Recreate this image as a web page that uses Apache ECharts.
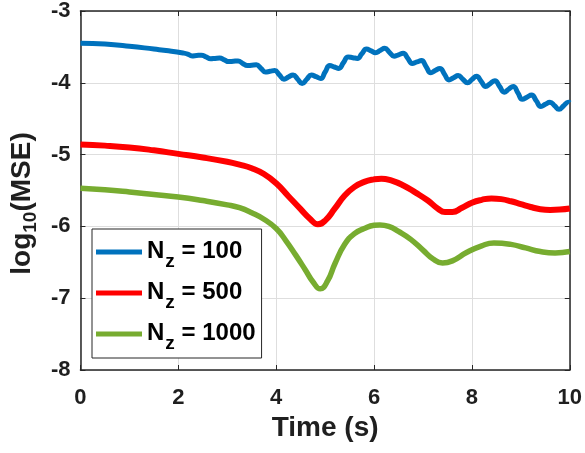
<!DOCTYPE html>
<html>
<head>
<meta charset="utf-8">
<script src="https://cdn.jsdelivr.net/npm/echarts@6/dist/echarts.min.js"></script>
<style>
html,body{margin:0;padding:0;background:#fff;}
#main{width:585px;height:453px;}
</style>
</head>
<body>
<div id="main"></div>
<script>
// N_z = 100 (small ripples on top of the trend)
var t100 = [0,0.5,1.0,1.5,1.8,2.095,2.19,2.28,2.375,2.47,2.565,2.66,2.75,2.845,2.94,3.03,3.125,3.22,3.315,3.41,3.5,3.595,3.69,3.78,3.875,3.97,4.065,4.16,4.25,4.345,4.44,4.53,4.625,4.72,4.815,4.91,5.0,5.095,5.19,5.28,5.375,5.47,5.565,5.66,5.75,5.845,5.94,6.03,6.125,6.22,6.315,6.41,6.5,6.595,6.69,6.78,6.875,6.97,7.065,7.16,7.25,7.345,7.44,7.53,7.625,7.72,7.815,7.91,8.0,8.095,8.19,8.28,8.375,8.47,8.565,8.66,8.75,8.845,8.94,9.03,9.125,9.22,9.315,9.41,9.5,9.595,9.69,9.78,9.875,9.97,10];
var v100 = [-3.45,-3.46,-3.49,-3.53,-3.555,-3.585,-3.60,-3.625,-3.62,-3.615,-3.64,-3.665,-3.66,-3.655,-3.68,-3.705,-3.70,-3.695,-3.73,-3.76,-3.755,-3.75,-3.80,-3.85,-3.84,-3.83,-3.89,-3.95,-3.92,-3.89,-3.95,-4.01,-3.95,-3.89,-3.915,-3.94,-3.85,-3.76,-3.78,-3.80,-3.72,-3.64,-3.65,-3.66,-3.595,-3.53,-3.555,-3.58,-3.55,-3.52,-3.575,-3.63,-3.61,-3.59,-3.66,-3.73,-3.71,-3.69,-3.775,-3.86,-3.83,-3.80,-3.88,-3.96,-3.93,-3.90,-3.95,-4.00,-3.955,-3.91,-3.98,-4.05,-4.01,-3.97,-4.05,-4.13,-4.09,-4.05,-4.14,-4.23,-4.20,-4.17,-4.25,-4.33,-4.30,-4.27,-4.32,-4.37,-4.32,-4.27,-4.28];
// N_z = 500
var t500 = [0,0.5,1,1.5,2,2.5,3,3.25,3.5,3.75,4.0,4.25,4.5,4.7,4.85,5.0,5.2,5.4,5.6,5.8,6.0,6.15,6.35,6.6,6.85,7.1,7.3,7.45,7.6,7.8,8.0,8.2,8.4,8.6,8.8,9.0,9.2,9.4,9.6,9.8,10];
var v500 = [-4.86,-4.875,-4.90,-4.94,-4.99,-5.04,-5.10,-5.14,-5.19,-5.27,-5.40,-5.58,-5.76,-5.90,-5.97,-5.92,-5.75,-5.57,-5.45,-5.38,-5.345,-5.335,-5.36,-5.43,-5.53,-5.64,-5.75,-5.80,-5.80,-5.74,-5.67,-5.63,-5.61,-5.62,-5.65,-5.69,-5.73,-5.76,-5.77,-5.765,-5.75];
// N_z = 1000
var t1000 = [0,0.5,1,1.5,2,2.5,3,3.25,3.5,3.75,4.0,4.2,4.4,4.6,4.75,4.9,5.05,5.2,5.4,5.6,5.8,6.0,6.12,6.3,6.5,6.75,7.0,7.2,7.4,7.6,7.9,8.2,8.45,8.8,9.1,9.4,9.7,10];
var v1000 = [-5.47,-5.49,-5.52,-5.555,-5.59,-5.64,-5.70,-5.74,-5.81,-5.90,-6.03,-6.20,-6.40,-6.61,-6.77,-6.87,-6.76,-6.52,-6.25,-6.10,-6.03,-5.985,-5.98,-6.00,-6.07,-6.18,-6.33,-6.45,-6.51,-6.48,-6.36,-6.27,-6.23,-6.25,-6.30,-6.35,-6.37,-6.35];

var names = ['N_z = 100','N_z = 500','N_z = 1000'];
var colors = ['#0072BD','#FF0000','#77AC30'];

function pairs(t, v){
	var out = [];
	for (var i = 0; i < t.length; i++) { out.push([t[i], v[i]]); }
	return out;
}

var font = 'Liberation Sans, Arial, sans-serif';
var ink = '#1f1f1f';

var myChart = echarts.init(document.getElementById('main'), null, {renderer: 'canvas'});
var option = {
	animation: false,
	backgroundColor: '#fff',
	grid: {left: 80, right: 14, top: 9, bottom: 83},
	legend: {
		orient: 'vertical',
		left: 92,
		top: 229,
		padding: [10, 6, 5, 4],
		itemGap: 9,
		itemWidth: 46,
		itemHeight: 5,
		icon: 'rect',
		backgroundColor: '#fff',
		borderColor: '#262626',
		borderWidth: 1,
		data: names,
		formatter: function(name){
			var rest = name.split('_z')[1];
			return '{a|N}{s|z}{a|' + rest + '}';
		},
		textStyle: {
			fontFamily: font,
			fontWeight: 'bold',
			color: '#000',
			rich: {
				a: {fontSize: 24, fontWeight: 'bold', fontFamily: font, color: '#000', verticalAlign: 'top', lineHeight: 26},
				s: {fontSize: 19, fontWeight: 'bold', fontFamily: font, color: '#000', verticalAlign: 'top', padding: [13, 0, 0, 1], lineHeight: 20}
			}
		}
	},
	xAxis: [
		{
			type: 'value', min: 0, max: 10, interval: 2,
			name: 'Time (s)', nameLocation: 'middle', nameGap: 40,
			nameTextStyle: {fontSize: 28, fontWeight: 'bold', fontFamily: font, color: ink},
			axisLine: {show: true, onZero: false, lineStyle: {color: '#262626', width: 1.5}},
			axisTick: {show: true, inside: true, length: 5, lineStyle: {color: '#262626'}},
			axisLabel: {fontSize: 22, fontWeight: 'bold', fontFamily: font, color: ink, margin: 17},
			splitLine: {show: true, lineStyle: {color: '#dedede', width: 1}}
		},
		{
			type: 'value', min: 0, max: 10, interval: 2, position: 'top',
			axisLine: {show: true, onZero: false, lineStyle: {color: '#262626', width: 1.5}},
			axisTick: {show: true, inside: true, length: 5, lineStyle: {color: '#262626'}},
			axisLabel: {show: false},
			splitLine: {show: false}
		}
	],
	yAxis: [
		{
			type: 'value', min: -8, max: -3, interval: 1,
			name: '{a|log}{s|10}{a|(MSE)}', nameLocation: 'middle', nameGap: 40, nameRotate: 90,
			nameTextStyle: {
				fontSize: 28, fontWeight: 'bold', fontFamily: font, color: ink,
				padding: [0, 26, 0, 0],
				rich: {
					a: {fontSize: 28, fontWeight: 'bold', fontFamily: font, color: ink, verticalAlign: 'top', lineHeight: 29},
					s: {fontSize: 19, fontWeight: 'bold', fontFamily: font, color: ink, verticalAlign: 'top', padding: [13, 0, 0, 0], lineHeight: 19}
				}
			},
			axisLine: {show: true, onZero: false, lineStyle: {color: '#262626', width: 1.5}},
			axisTick: {show: true, inside: true, length: 5, lineStyle: {color: '#262626'}},
			axisLabel: {fontSize: 22, fontWeight: 'bold', fontFamily: font, color: ink, margin: 10},
			splitLine: {show: true, lineStyle: {color: '#dedede', width: 1}}
		},
		{
			type: 'value', min: -8, max: -3, interval: 1, position: 'right',
			axisLine: {show: true, onZero: false, lineStyle: {color: '#262626', width: 1.5}},
			axisTick: {show: true, inside: true, length: 5, lineStyle: {color: '#262626'}},
			axisLabel: {show: false},
			splitLine: {show: false}
		}
	],
	series: [
		{name: names[0], type: 'line', data: pairs(t100, v100), smooth: 0.5, symbol: 'none', color: colors[0], lineStyle: {width: 5, color: colors[0]}},
		{name: names[1], type: 'line', data: pairs(t500, v500), smooth: 0.5, symbol: 'none', color: colors[1], lineStyle: {width: 6, color: colors[1]}},
		{name: names[2], type: 'line', data: pairs(t1000, v1000), smooth: 0.5, symbol: 'none', color: colors[2], lineStyle: {width: 5.5, color: colors[2]}}
	]
};
myChart.setOption(option);
</script>
</body>
</html>
